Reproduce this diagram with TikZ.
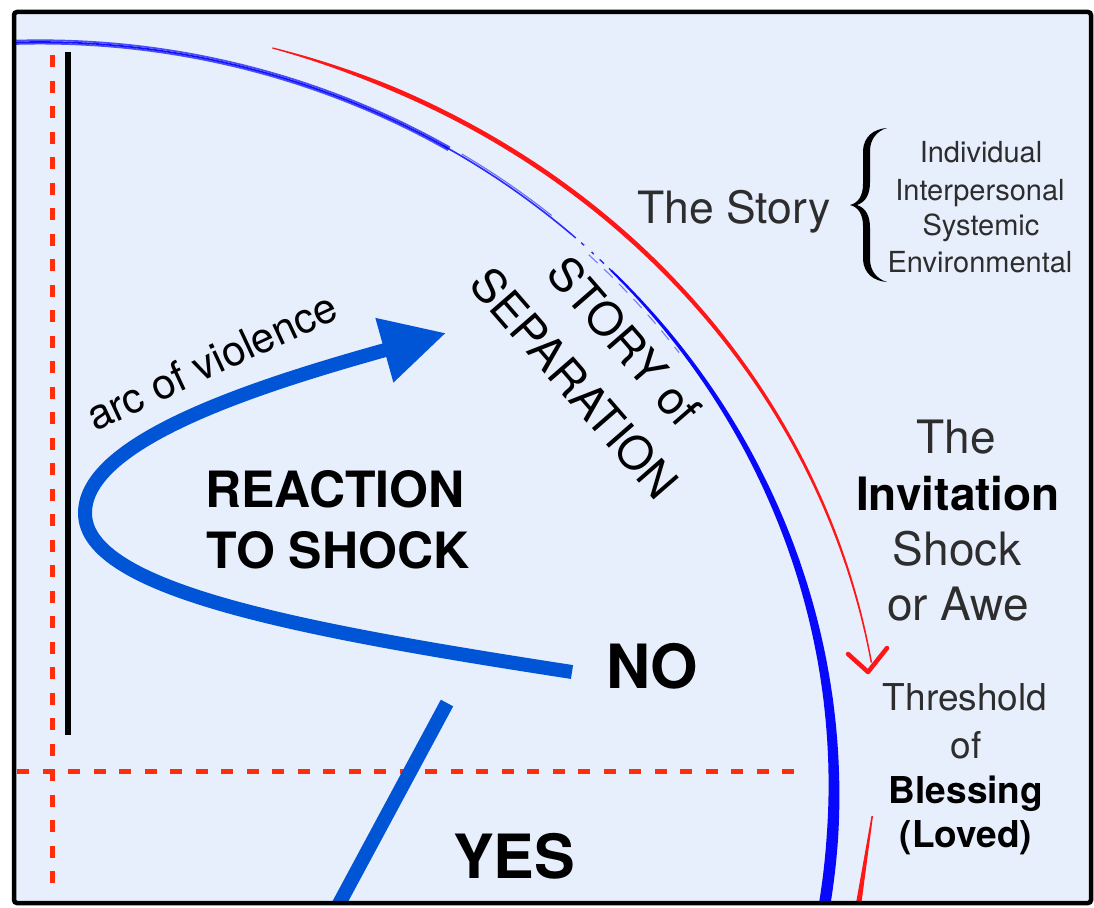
\documentclass[tikz,border=0pt]{standalone}
\usepackage{fontspec}
\setmainfont{TeX Gyre Heros}
\usetikzlibrary{arrows.meta}
\definecolor{bgblue}{RGB}{231,238,252}
\definecolor{arcblue}{RGB}{8,8,250}
\definecolor{arrblue}{RGB}{0,84,214}
\definecolor{dashred}{RGB}{255,45,10}
\definecolor{arcred}{RGB}{255,22,22}
\definecolor{graytext}{RGB}{45,45,45}
\begin{document}
\begin{tikzpicture}[x=1pt,y=-1pt,
  declare function={bw(\t)=min(11.5,2+0.2*(44-\t));
                    rw(\t)=min(4.6,1.2+0.4*(74-\t),4.6-0.09*(45-\t));},
  lbl/.style={inner sep=0pt, anchor=base, text=graytext},
  bold/.style={inner sep=0pt, anchor=base, text=black, font=\bfseries},
  redash/.style={dashred, line width=5, dash pattern=on 12 off 13.5},
  thickblue/.style={arrblue, line width=14}]
\useasboundingbox (0,0) rectangle (1094,907);
\fill[white] (0,0) rectangle (1094,907);
\fill[bgblue] (14,12) rectangle (1091,903);
\begin{scope}
\clip (14,12) rectangle (1091,903);
% dashed red guides
\coordinate (vd1) at (52,55);
\coordinate (vd2) at (52,895);
\coordinate (hd1) at (17,771);
\coordinate (hd2) at (800,771);
\draw[redash] (vd1) -- (vd2);
\draw[redash] (hd1) -- (hd2);
% black vertical bar
\coordinate (bl1) at (68,52);
\coordinate (bl2) at (68,735);
\draw[black, line width=6] (bl1) -- (bl2);
% blue arc: sketchy top part
\foreach \o/\op in {0/0.95, 1.8/0.7, -1.6/0.7}{
  \draw[arcblue, line width=1.7, opacity=\op] plot[domain=92:59, samples=50, variable=\t]
    ({40+(794+\o)*cos(\t)},{790-(748+\o)*sin(\t)});
}
\draw[arcblue, line width=1.6, opacity=0.85]
  plot[domain=59.5:48, samples=30, variable=\t] ({40+794*cos(\t)},{790-748*sin(\t)});
\draw[arcblue, line width=1.1, opacity=0.55]
  plot[domain=58:50, samples=20, variable=\t] ({40+(794+2)*cos(\t)},{790-(748+2)*sin(\t)});
\draw[arcblue, line width=1.4, opacity=0.85, dash pattern=on 6 off 7 on 4 off 10 on 3 off 8]
  plot[domain=48:44, samples=12, variable=\t] ({40+794*cos(\t)},{790-748*sin(\t)});
\draw[arcblue, line width=1.1, opacity=0.5, dash pattern=on 12 off 9]
  plot[domain=46:36, samples=30, variable=\t] ({40+(794-4)*cos(\t)},{790-(748-4)*sin(\t)});
% blue arc: thickening lower part
\fill[arcblue] plot[domain=44:-10, samples=90, variable=\t]
    ({40+(794+bw(\t)/2)*cos(\t)},{790-(748+bw(\t)/2)*sin(\t)})
  -- plot[domain=-10:44, samples=90, variable=\t]
    ({40+(794-bw(\t)/2)*cos(\t)},{790-(748-bw(\t)/2)*sin(\t)}) -- cycle;
% red arc with open head
\fill[arcred] plot[domain=74:9.5, samples=90, variable=\t]
    ({40+(843+rw(\t)/2)*cos(\t)},{790-(772+rw(\t)/2)*sin(\t)})
  -- plot[domain=9.5:74, samples=90, variable=\t]
    ({40+(843-rw(\t)/2)*cos(\t)},{790-(772-rw(\t)/2)*sin(\t)}) -- cycle;
\coordinate (rh1) at (848,654);
\coordinate (rtip) at (868,672);
\coordinate (rh2) at (887,648);
\draw[arcred, line width=4.5, line join=round, line cap=round] (rh1) -- (rtip) -- (rh2);
% red lower stroke
\fill[arcred] (871.5,816) -- (873,816) -- (861,906) -- (855.5,906) -- cycle;
% arc of violence arrow
\coordinate (noend) at (572,672);
\coordinate (loop) at (85,513);
\coordinate (arrtip) at (446,333);
\draw[thickblue, -{Triangle[length=64pt,width=63pt]}]
  (noend) .. controls (300,630) and (85,590) .. (loop)
  .. controls (85,440) and (260,385) .. (arrtip);
% yes line
\coordinate (yes1) at (447,703);
\coordinate (yes2) at (333,915);
\draw[thickblue] (yes1) -- (yes2);
\end{scope}
% brace
\fill[black]
  (887,128) .. controls (873,129) and (864,137) .. (863,150) -- (863,184)
  .. controls (863,196) and (858,203) .. (850,205)
  .. controls (858,207) and (863,214) .. (863,226) -- (863,260)
  .. controls (864,273) and (873,281) .. (887,282)
  .. controls (877,279) and (870,271) .. (870,259) -- (870,228)
  .. controls (870,216) and (866,208) .. (857,205)
  .. controls (866,202) and (870,194) .. (870,182) -- (870,151)
  .. controls (870,139) and (877,131) .. (887,128) -- cycle;
% texts
\node[lbl, anchor=base west, rotate=25, font=\fontsize{42}{42}\selectfont, text=black] (arcv) at (95,432) {arc of violence};
\node[bold, font=\fontsize{50}{50}\selectfont\bfseries] (react) at (335,507) {REACTION};
\node[bold, font=\fontsize{50}{50}\selectfont\bfseries] (toshock) at (338,568) {TO SHOCK};
\node[bold, anchor=base west, font=\fontsize{61}{61}\selectfont\bfseries] (no) at (606,688) {NO};
\node[bold, anchor=base west, font=\fontsize{61}{61}\selectfont\bfseries] (yes) at (453,878) {YES};
\node[lbl, rotate=-49, font=\fontsize{46}{46}\selectfont, text=black] (story1) at (612,352) {STORY of};
\node[lbl, rotate=-49, font=\fontsize{46}{46}\selectfont, text=black] (story2) at (562,394) {SEPARATION};
\node[lbl, anchor=base west, font=\fontsize{44.5}{44.5}\selectfont] (thestory) at (637,223) {The Story};
\node[lbl, font=\fontsize{29}{29}\selectfont] (ind) at (981,162) {Individual};
\node[lbl, font=\fontsize{29}{29}\selectfont] (inter) at (980,200) {Interpersonal};
\node[lbl, font=\fontsize{29}{29}\selectfont] (sys) at (981,235) {Systemic};
\node[lbl, font=\fontsize{29}{29}\selectfont] (env) at (980,272) {Environmental};
\node[lbl, font=\fontsize{46}{46}\selectfont] (the) at (956,453) {The};
\node[bold, font=\fontsize{46}{46}\selectfont\bfseries] (invit) at (958,510) {Invitation};
\node[lbl, font=\fontsize{46}{46}\selectfont] (shock) at (957,565) {Shock};
\node[lbl, font=\fontsize{46}{46}\selectfont] (awe) at (958,620) {or Awe};
\node[lbl, font=\fontsize{37}{37}\selectfont] (thresh) at (965,710) {Threshold};
\node[lbl, font=\fontsize{37}{37}\selectfont] (of) at (966,758) {of};
\node[bold, font=\fontsize{37}{37}\selectfont\bfseries] (bless) at (966,803) {Blessing};
\node[bold, font=\fontsize{37}{37}\selectfont\bfseries] (loved) at (966,847) {(Loved)};
% frame
\draw[black, line width=4.5, rounded corners=3] (14,12) rectangle (1091,903);
\end{tikzpicture}
\end{document}
